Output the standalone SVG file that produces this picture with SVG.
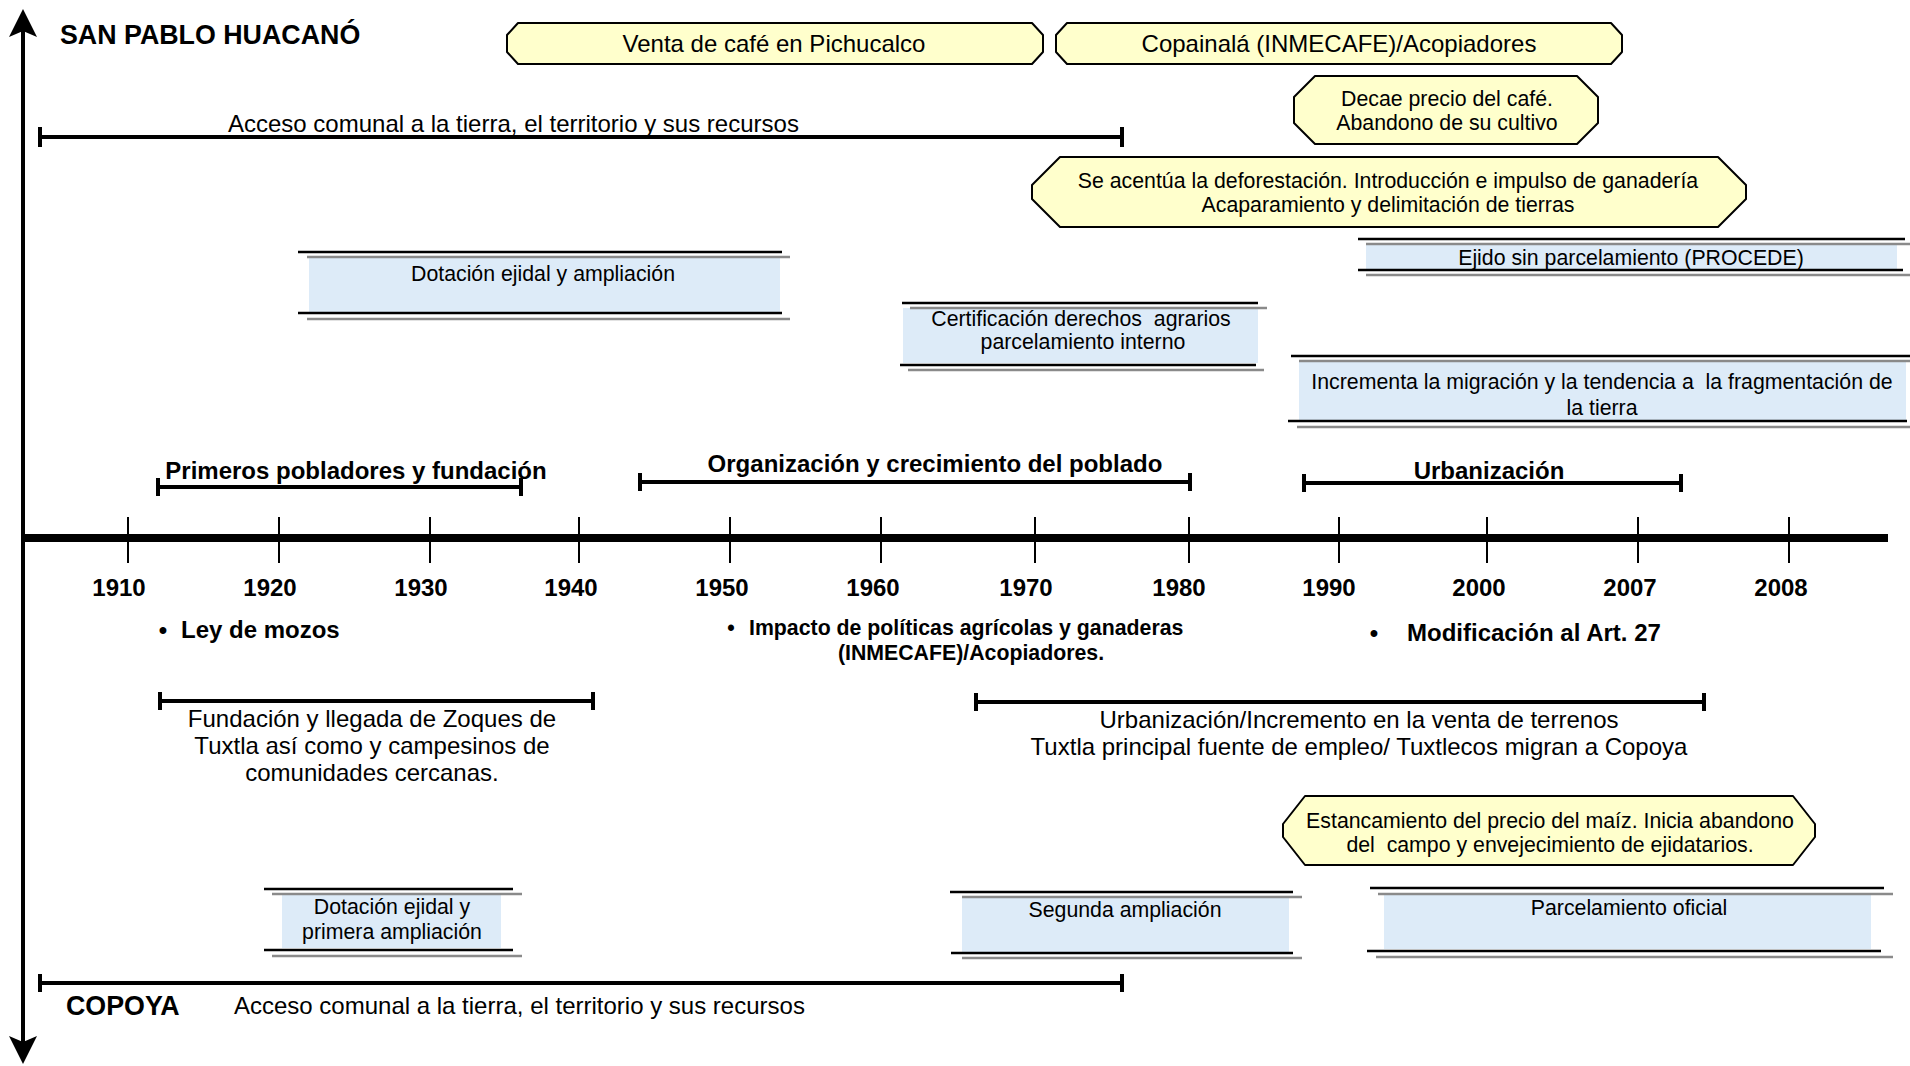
<svg xmlns="http://www.w3.org/2000/svg" width="1910" height="1066" viewBox="0 0 1910 1066">
<style>
text{font-family:"Liberation Sans",Arial,Helvetica,sans-serif;fill:#000;white-space:pre}
.t{font-size:21.3px;text-anchor:middle}
.tm{font-size:24px;text-anchor:middle}
.tl{font-size:24px}
.b{font-weight:bold}
.yr{font-size:24px;font-weight:bold;text-anchor:middle}
.hd{font-size:26.8px;font-weight:bold}
.yel{fill:#FFFFCC;stroke:#000;stroke-width:2;stroke-linejoin:round}
.blu{fill:#DDEBF8;stroke:none}
.bk{stroke:#000;stroke-width:2.5}
.gr{stroke:#8a8a8a;stroke-width:2.5}
.bar{stroke:#000;stroke-width:4;fill:none}
.tk{stroke:#000;stroke-width:2}
</style>
<defs>
<path id="ah" d="M0,0 L14,28 L0,22 L-14,28 Z" fill="#000"/>
</defs>

<g id="connectors">
  <g id="vaxis">
    <line x1="23" y1="20" x2="23" y2="1052" stroke="#000" stroke-width="4"/>
    <use href="#ah" transform="translate(23,9)"/>
    <use href="#ah" transform="translate(23,1064) scale(1,-1)"/>
  </g>
  <g id="timeline">
    <line x1="21" y1="538" x2="1888" y2="538" stroke="#000" stroke-width="8"/>
    <g class="tk">
      <line x1="128" y1="517" x2="128" y2="563"/>
      <line x1="279" y1="517" x2="279" y2="563"/>
      <line x1="430" y1="517" x2="430" y2="563"/>
      <line x1="579" y1="517" x2="579" y2="563"/>
      <line x1="730" y1="517" x2="730" y2="563"/>
      <line x1="881" y1="517" x2="881" y2="563"/>
      <line x1="1035" y1="517" x2="1035" y2="563"/>
      <line x1="1189" y1="517" x2="1189" y2="563"/>
      <line x1="1339" y1="517" x2="1339" y2="563"/>
      <line x1="1487" y1="517" x2="1487" y2="563"/>
      <line x1="1638" y1="517" x2="1638" y2="563"/>
      <line x1="1789" y1="517" x2="1789" y2="563"/>
    </g>
  </g>
  <g id="spans" class="bar">
    <path d="M40,127 V147 M40,137 H1122 M1122,127 V147"/>
    <path d="M158,478 V496 M158,487 H521 M521,478 V496"/>
    <path d="M640,473 V491 M640,482 H1190 M1190,473 V491"/>
    <path d="M1304,474 V492 M1304,483 H1681 M1681,474 V492"/>
    <path d="M160,692 V710 M160,701 H593 M593,692 V710"/>
    <path d="M976,693 V711 M976,702 H1704 M1704,693 V711"/>
    <path d="M40,974 V992 M40,983 H1122 M1122,974 V992"/>
  </g>
</g>

<g id="title-san-pablo"><text class="hd" x="60" y="44">SAN PABLO HUACANÓ</text></g>
<g id="title-copoya"><text class="hd" x="66" y="1015">COPOYA</text></g>

<g id="acceso-top"><text class="tl" x="228" y="132">Acceso comunal a la tierra, el territorio y sus recursos</text></g>
<g id="acceso-bottom"><text class="tl" x="234" y="1014">Acceso comunal a la tierra, el territorio y sus recursos</text></g>

<g id="venta-cafe">
  <polygon class="yel" points="518,23 1032,23 1043,35 1043,52 1032,64 518,64 507,52 507,35"/>
  <text class="tm" x="774" y="52">Venta de café en Pichucalco</text>
</g>
<g id="copainala">
  <polygon class="yel" points="1067,23 1611,23 1622,35 1622,52 1611,64 1067,64 1056,52 1056,35"/>
  <text class="tm" x="1339" y="52">Copainalá (INMECAFE)/Acopiadores</text>
</g>
<g id="decae-cafe">
  <polygon class="yel" points="1315,76 1577,76 1598,97 1598,123 1577,144 1315,144 1294,123 1294,97"/>
  <text class="t" x="1447" y="106">Decae precio del café.</text>
  <text class="t" x="1447" y="130">Abandono de su cultivo</text>
</g>
<g id="deforestacion">
  <polygon class="yel" points="1060,157 1718,157 1746,185 1746,199 1718,227 1060,227 1032,199 1032,185"/>
  <text class="t" x="1388" y="188">Se acentúa la deforestación. Introducción e impulso de ganadería</text>
  <text class="t" x="1388" y="212">Acaparamiento y delimitación de tierras</text>
</g>
<g id="estancamiento">
  <polygon class="yel" points="1305,796 1793,796 1815,824 1815,837 1793,865 1305,865 1283,837 1283,824"/>
  <text class="t" x="1550" y="828">Estancamiento del precio del maíz. Inicia abandono</text>
  <text class="t" x="1550" y="852" xml:space="preserve">del  campo y envejecimiento de ejidatarios.</text>
</g>

<g id="dotacion-ampliacion">
  <rect class="blu" x="309" y="257" width="471" height="55"/>
  <line class="bk" x1="298" y1="252" x2="782" y2="252"/>
  <line class="gr" x1="307" y1="257" x2="790" y2="257"/>
  <line class="bk" x1="298" y1="313" x2="782" y2="313"/>
  <line class="gr" x1="307" y1="319" x2="790" y2="319"/>
  <text class="t" x="543" y="281">Dotación ejidal y ampliación</text>
</g>
<g id="certificacion">
  <rect class="blu" x="903" y="308" width="355" height="55"/>
  <line class="bk" x1="902" y1="303" x2="1258" y2="303"/>
  <line class="gr" x1="910" y1="308" x2="1267" y2="308"/>
  <line class="bk" x1="900" y1="365" x2="1256" y2="365"/>
  <line class="gr" x1="908" y1="370" x2="1264" y2="370"/>
  <text class="t" x="1081" y="326" xml:space="preserve">Certificación derechos  agrarios</text>
  <text class="t" x="1083" y="349">parcelamiento interno</text>
</g>
<g id="ejido-procede">
  <rect class="blu" x="1366" y="244" width="531" height="25"/>
  <line class="bk" x1="1358" y1="239" x2="1905" y2="239"/>
  <line class="gr" x1="1366" y1="244" x2="1910" y2="244"/>
  <line class="bk" x1="1358" y1="270" x2="1903" y2="270"/>
  <line class="gr" x1="1366" y1="275" x2="1910" y2="275"/>
  <text class="t" x="1631" y="265">Ejido sin parcelamiento (PROCEDE)</text>
</g>
<g id="migracion">
  <rect class="blu" x="1299" y="361" width="607" height="59"/>
  <line class="bk" x1="1291" y1="356" x2="1910" y2="356"/>
  <line class="gr" x1="1299" y1="361" x2="1910" y2="361"/>
  <text class="t" x="1602" y="389" xml:space="preserve">Incrementa la migración y la tendencia a  la fragmentación de</text>
  <text class="t" x="1602" y="415">la tierra</text>
  <line class="bk" x1="1288" y1="421" x2="1907" y2="421"/>
  <line class="gr" x1="1297" y1="427" x2="1910" y2="427"/>
</g>

<g id="dotacion-primera">
  <rect class="blu" x="282" y="894" width="219" height="54"/>
  <line class="bk" x1="264" y1="889" x2="513" y2="889"/>
  <line class="gr" x1="272" y1="894" x2="522" y2="894"/>
  <line class="bk" x1="264" y1="950" x2="513" y2="950"/>
  <line class="gr" x1="272" y1="956" x2="522" y2="956"/>
  <text class="t" x="392" y="914">Dotación ejidal y</text>
  <text class="t" x="392" y="939">primera ampliación</text>
</g>
<g id="segunda-ampliacion">
  <rect class="blu" x="962" y="897" width="327" height="55"/>
  <line class="bk" x1="950" y1="892" x2="1293" y2="892"/>
  <line class="gr" x1="962" y1="897" x2="1302" y2="897"/>
  <line class="bk" x1="951" y1="953" x2="1293" y2="953"/>
  <line class="gr" x1="962" y1="958" x2="1302" y2="958"/>
  <text class="t" x="1125" y="917">Segunda ampliación</text>
</g>
<g id="parcelamiento-oficial">
  <rect class="blu" x="1384" y="894" width="487" height="55"/>
  <line class="bk" x1="1370" y1="888" x2="1884" y2="888"/>
  <line class="gr" x1="1378" y1="894" x2="1893" y2="894"/>
  <line class="bk" x1="1367" y1="951" x2="1881" y2="951"/>
  <line class="gr" x1="1376" y1="957" x2="1893" y2="957"/>
  <text class="t" x="1629" y="915">Parcelamiento oficial</text>
</g>

<g id="period-primeros"><text class="tm b" x="356" y="479">Primeros pobladores y fundación</text></g>
<g id="period-organizacion"><text class="tm b" x="935" y="472">Organización y crecimiento del poblado</text></g>
<g id="period-urbanizacion"><text class="tm b" x="1489" y="479">Urbanización</text></g>

<g id="years">
  <text class="yr" x="119" y="596">1910</text>
  <text class="yr" x="270" y="596">1920</text>
  <text class="yr" x="421" y="596">1930</text>
  <text class="yr" x="571" y="596">1940</text>
  <text class="yr" x="722" y="596">1950</text>
  <text class="yr" x="873" y="596">1960</text>
  <text class="yr" x="1026" y="596">1970</text>
  <text class="yr" x="1179" y="596">1980</text>
  <text class="yr" x="1329" y="596">1990</text>
  <text class="yr" x="1479" y="596">2000</text>
  <text class="yr" x="1630" y="596">2007</text>
  <text class="yr" x="1781" y="596">2008</text>
</g>

<g id="ley-mozos">
  <text class="tm b" x="163" y="638">•</text>
  <text class="tl b" x="181" y="638">Ley de mozos</text>
</g>
<g id="impacto-politicas">
  <text class="t b" x="731" y="635">•</text>
  <text class="b" style="font-size:21.3px" x="749" y="635">Impacto de políticas agrícolas y ganaderas</text>
  <text class="t b" x="971" y="660">(INMECAFE)/Acopiadores.</text>
</g>
<g id="modificacion-art27">
  <text class="tm b" x="1374" y="641">•</text>
  <text class="tl b" x="1407" y="641">Modificación al Art. 27</text>
</g>

<g id="fundacion-zoques">
  <text class="tm" x="372" y="727">Fundación y llegada de Zoques de</text>
  <text class="tm" x="372" y="754">Tuxtla así como y campesinos de</text>
  <text class="tm" x="372" y="781">comunidades cercanas.</text>
</g>
<g id="urbanizacion-terrenos">
  <text class="tm" x="1359" y="728">Urbanización/Incremento en la venta de terrenos</text>
  <text class="tm" x="1359" y="755">Tuxtla principal fuente de empleo/ Tuxtlecos migran a Copoya</text>
</g>
</svg>
